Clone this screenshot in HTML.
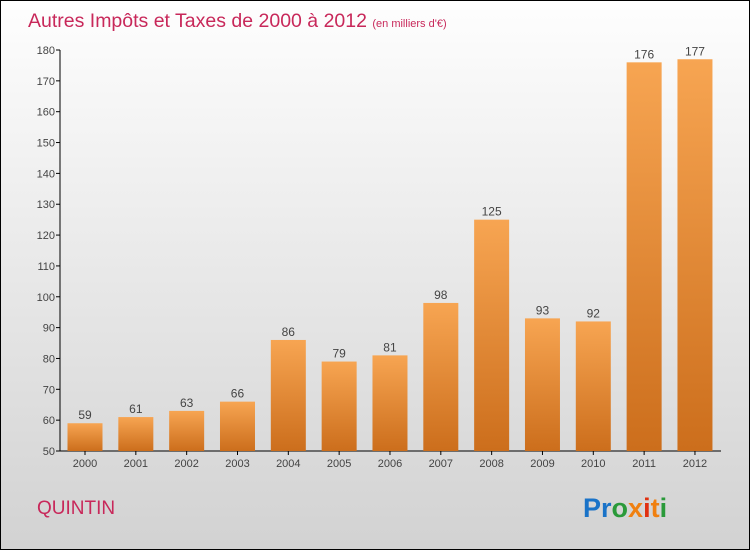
<!DOCTYPE html>
<html><head><meta charset="utf-8"><style>
body{margin:0;width:750px;height:550px;overflow:hidden;font-family:"Liberation Sans",sans-serif}
#frame{position:absolute;left:0;top:0;width:748px;height:548px;border:1px solid #000;background:linear-gradient(#fefefe,#d2d2d2)}
</style></head><body>
<div id="frame">
<svg id="chart" width="748" height="548">
<defs><linearGradient id="bg" x1="0" y1="0" x2="0" y2="1"><stop offset="0" stop-color="#f7a552"/><stop offset="1" stop-color="#cc6e1c"/></linearGradient></defs>
<text x="27" y="26" font-size="19.5" fill="#c8285a">Autres Impôts et Taxes de 2000 à 2012 <tspan font-size="11">(en milliers d'€)</tspan></text>
<text x="36" y="513" font-size="19" fill="#c8285a">QUINTIN</text>
<text x="582" y="516" font-size="27" font-weight="bold"><tspan fill="#1a73c8">Pr</tspan><tspan fill="#2a9a3a">o</tspan><tspan fill="#f08010">x</tspan><tspan fill="#e03010">i</tspan><tspan fill="#f08010">t</tspan><tspan fill="#2a9a3a">i</tspan></text>
<g id="g"></g>
</svg></div>
<script>
const categories=["2000","2001","2002","2003","2004","2005","2006","2007","2008","2009","2010","2011","2012"];
const values=[59,61,63,66,86,79,81,98,125,93,92,176,177];
const ticks=[50,60,70,80,90,100,110,120,130,140,150,160,170,180];
const NS="http://www.w3.org/2000/svg";
const g=document.getElementById('g');
const y=v=>450-(v-50)*(401/130);
const x=i=>84+i*50.83;
function mk(t,a){const e=document.createElementNS(NS,t);for(const k in a)e.setAttribute(k,a[k]);g.appendChild(e);return e;}
let ax=mk('line',{x1:59,y1:y(180),x2:59,y2:450,stroke:'#000'});


let bx=mk('line',{x1:59,y1:450,x2:720,y2:450,stroke:'#000'});


ticks.forEach(t=>{
 let l=mk('line',{x1:55,x2:59,y1:y(t),y2:y(t),stroke:'#000'});
 
 
 let tx=mk('text',{x:54,y:y(t)+4,'font-size':11,'text-anchor':'end',fill:'#444'});tx.textContent=t;
 
 
});
values.forEach((v,i)=>{
 let r=mk('rect',{x:x(i)-17.5,y:y(v),width:35,height:450-y(v),fill:'url(#bg)'});
 
 
 let t=mk('text',{x:x(i),y:y(v)-4,'font-size':12,'text-anchor':'middle',fill:'#444'});t.textContent=v;
 
 
 let c=mk('text',{x:x(i),y:466,'font-size':11,'text-anchor':'middle',fill:'#444'});c.textContent=categories[i];
 
 
 let tk=mk('line',{x1:x(i),x2:x(i),y1:450,y2:454,stroke:'#000'});
 
 
});
</script>
</body></html>
